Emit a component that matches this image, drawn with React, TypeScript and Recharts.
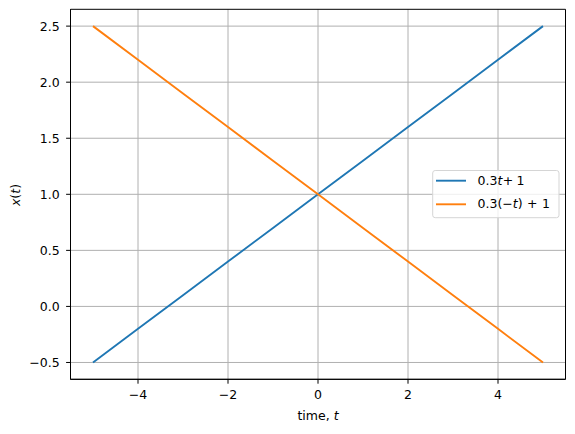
import { LineChart, Line, XAxis, YAxis, CartesianGrid, ReferenceArea, Label } from "recharts";

const time = [-5, -4, -3, -2, -1, 0, 1, 2, 3, 4, 5];
const forward = [-0.5, -0.2, 0.1, 0.4, 0.7, 1.0, 1.3, 1.6, 1.9, 2.2, 2.5];
const backward = [2.5, 2.2, 1.9, 1.6, 1.3, 1.0, 0.7, 0.4, 0.1, -0.2, -0.5];
const xTicks = [-4, -2, 0, 2, 4];
const yTicks = [-0.5, 0, 0.5, 1.0, 1.5, 2.0, 2.5];
const xDomain = [-5.5, 5.5];
const yDomain = [-0.65, 2.65];

const data = time.map((t, i) => ({ t, a: forward[i], b: backward[i] }));

const FONT = "'DejaVu Sans', sans-serif";
const FS = 12.5;
const fmt = (v: number) => (v < 0 ? "\u2212" : "") + Math.abs(v);
const fmtY = (v: number) => (v < 0 ? "\u2212" : "") + Math.abs(v).toFixed(1);

// legend rows: text before t, text after t, x of "+" and "1"
const legendItems = [
  { color: "#1f77b4", pre: "0.3", post: "", plusX: 70.7, oneX: 84.6 },
  { color: "#ff7f0e", pre: "0.3(\u2212", post: ")", plusX: 95, oneX: 109.9 },
];

function LegendBox() {
  return (
    <svg width={128} height={49} style={{ display: "block" }}>
      <rect x={0.7} y={0.5} width={126.3} height={47.2} rx={2.5} fill="#fff" fillOpacity={0.8} stroke="#d5d5d5" strokeWidth={1} />
      {legendItems.map((it, i) => (
        <g key={i}>
          <line x1={4} x2={34} y1={10.7 + i * 23.6} y2={10.7 + i * 23.6} stroke={it.color} strokeWidth={1.9} />
          <text y={15.3 + i * 22.7} fontSize={FS} fontFamily={FONT} fill="#000">
            <tspan x={45.5}>{it.pre}</tspan>
            <tspan fontStyle="italic">t</tspan>
            {it.post ? <tspan>{it.post}</tspan> : null}
            <tspan x={it.plusX}>+</tspan>
            <tspan x={it.oneX}>1</tspan>
          </text>
        </g>
      ))}
    </svg>
  );
}

export default function App() {
  return (
    <div style={{ position: "fixed", left: 0, top: 0, width: 575, height: 434, background: "#fff" }}>
      <LineChart width={575} height={434} data={data} margin={{ top: 9.3, right: 9.5, left: 0.5, bottom: 0 }}>
        <CartesianGrid stroke="#b0b0b0" strokeWidth={1} horizontalValues={yTicks} verticalValues={xTicks} />
        <XAxis
          dataKey="t"
          type="number"
          domain={xDomain}
          ticks={xTicks}
          tickFormatter={fmt}
          height={54.7}
          stroke="#000"
          tickSize={4.4}
          tickMargin={6.2}
          tick={{ fontSize: FS, fill: "#000", fontFamily: FONT }}
          allowDataOverflow
        >
          <Label
            content={() => (
              <text x={318} y={420} textAnchor="middle" fontSize={FS} fontFamily={FONT} fill="#000">
                time, <tspan fontStyle="italic">t</tspan>
              </text>
            )}
          />
        </XAxis>
        <YAxis
          type="number"
          domain={yDomain}
          ticks={yTicks}
          tickFormatter={fmtY}
          width={70}
          stroke="#000"
          tickSize={4.4}
          tickMargin={6.5}
          tick={{ fontSize: FS, fill: "#000", fontFamily: FONT }}
          allowDataOverflow
        >
          <Label
            content={() => (
              <text x={20} y={195} textAnchor="middle" fontSize={FS} fontFamily={FONT} fill="#000" transform="rotate(-90 20 195)">
                <tspan fontStyle="italic">x</tspan>(<tspan fontStyle="italic">t</tspan>)
              </text>
            )}
          />
        </YAxis>
        <Line dataKey="a" name="0.3t + 1" stroke="#1f77b4" strokeWidth={1.9} dot={false} isAnimationActive={false} />
        <Line dataKey="b" name="0.3(-t) + 1" stroke="#ff7f0e" strokeWidth={1.9} dot={false} isAnimationActive={false} />
        <ReferenceArea x1={xDomain[0]} x2={xDomain[1]} y1={yDomain[0]} y2={yDomain[1]} fill="none" stroke="#000" strokeWidth={1} ifOverflow="visible" />
      </LineChart>
      <div style={{ position: "absolute", left: 432, top: 170 }}>
        <LegendBox />
      </div>
    </div>
  );
}
